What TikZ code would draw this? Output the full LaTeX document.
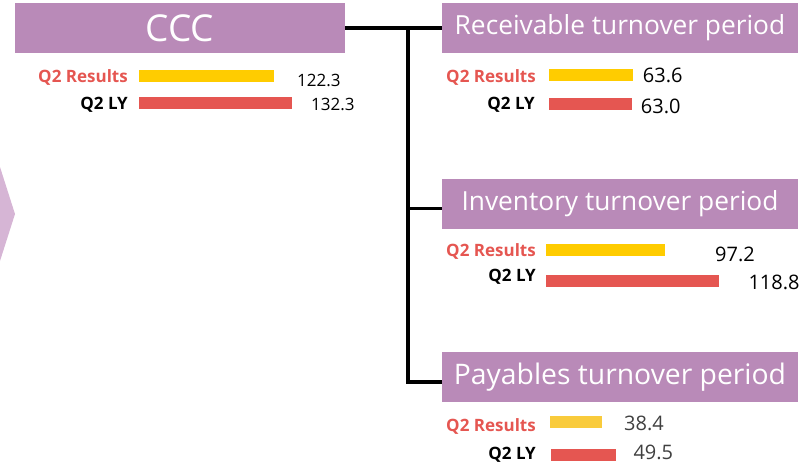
\documentclass[tikz,border=0pt]{standalone}
\usepackage{fontspec}
\setmainfont{Open Sans}
\usetikzlibrary{positioning}
\definecolor{boxpurple}{HTML}{B98AB8}
\definecolor{arrowpurple}{HTML}{D6B5D5}
\definecolor{baryellow}{HTML}{FFCC00}
\definecolor{paleyellow}{HTML}{F9CB3C}
\definecolor{barred}{HTML}{E55651}
\definecolor{valgray}{HTML}{404040}
\tikzset{
  headbox/.style = {fill=boxpurple, text=white, inner sep=0pt, minimum height=50pt, minimum width=356pt},
  link/.style = {draw=black, line width=3.5pt},
  bar/.style = {anchor=west, inner sep=0pt, minimum height=12pt},
  resbar/.style = {bar, fill=baryellow},
  lybar/.style = {bar, fill=barred},
  reslabel/.style = {anchor=base east, inner sep=0pt, text=barred, font=\bfseries\fontsize{17}{17}\selectfont},
  lylabel/.style = {anchor=base east, inner sep=0pt, text=black, font=\bfseries\fontsize{17}{17}\selectfont},
  val/.style = {anchor=base west, inner sep=0pt, font=\fontsize{20}{20}\selectfont},
}

\begin{document}
\begin{tikzpicture}[x=1pt, y=-1pt]
  \useasboundingbox (0,0) rectangle (811,463);
  \fill[arrowpurple] (0,167) -- (15,214) -- (0,261) -- cycle;

  \node[headbox, minimum width=330pt, font=\fontsize{37}{37}\selectfont] (ccc) at (180,28) {CCC};
  \node[headbox, font=\fontsize{26.3}{27}\selectfont] (rec) at (620,28) {Receivable turnover period};
  \node[headbox, font=\fontsize{26.3}{27}\selectfont] (inv) at (620,203.5) {Inventory turnover period};
  \node[headbox, font=\fontsize{28.3}{29}\selectfont] (pay) at (620,377) {Payables turnover period};

  \coordinate (jn) at (408,28);
  \draw[link] (ccc.east) -- (rec.west);
  \draw[link] (jn) |- ([yshift=-5pt]inv.west);
  \draw[link] (jn) |- ([yshift=-5pt]pay.west);

  \node[reslabel] (cccres) at (128,82.3) {Q2 Results};
  \node[lylabel] (cccly) at (128,109) {Q2 LY};
  \node[resbar, minimum width=135pt] (cccresbar) at (139,75.5) {};
  \node[lybar, minimum width=153pt] (cccslybar) at (139,103) {};
  \node[val, font=\fontsize{17}{17}\selectfont] (cccresval) at (297,86) {122.3};
  \node[val, font=\fontsize{17}{17}\selectfont] (ccclyval) at (311,110) {132.3};

  \node[reslabel] (recres) at (536,82.3) {Q2 Results};
  \node[lylabel] (recly) at (535,109.3) {Q2 LY};
  \node[resbar, minimum width=84pt] (recresbar) at (549,75) {};
  \node[lybar, minimum width=83pt] (reclybar) at (549,104) {};
  \node[val] (recresval) at (642.7,82.7) {63.6};
  \node[val] (reclyval) at (640.7,113.3) {63.0};

  \node[reslabel] (invres) at (536,256.7) {Q2 Results};
  \node[lylabel] (invly) at (536,281.7) {Q2 LY};
  \node[resbar, minimum width=119pt] (invresbar) at (546,249.5) {};
  \node[lybar, minimum width=173pt] (invlybar) at (546,280.5) {};
  \node[val] (invresval) at (715,261) {97.2};
  \node[val] (invlyval) at (748.3,289.3) {118.8};

  \node[reslabel] (payres) at (536,431.7) {Q2 Results};
  \node[lylabel] (payly) at (536,459.3) {Q2 LY};
  \node[resbar, fill=paleyellow, minimum width=52pt] (payresbar) at (550,421.5) {};
  \node[lybar, minimum width=65pt] (paylybar) at (551,454.5) {};
  \node[val, text=valgray] (payresval) at (624,430.7) {38.4};
  \node[val, text=valgray] (paylyval) at (633.3,459.5) {49.5};
\end{tikzpicture}
\end{document}
